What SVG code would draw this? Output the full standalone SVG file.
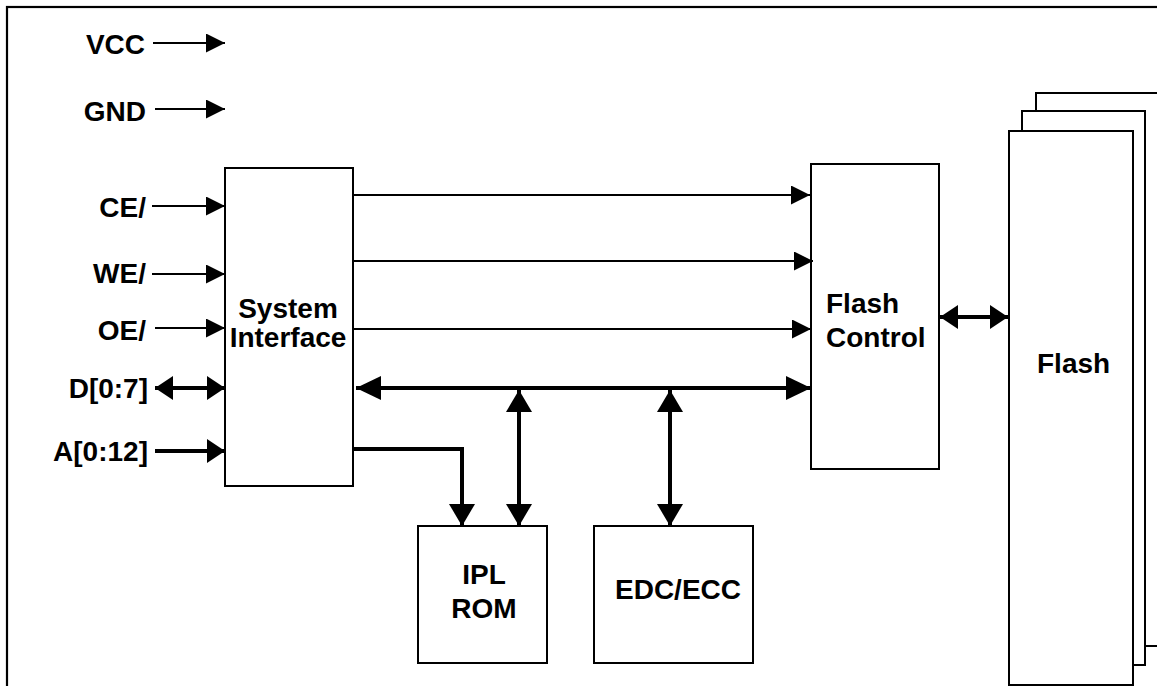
<svg xmlns="http://www.w3.org/2000/svg" width="1157" height="686" viewBox="0 0 1157 686">
<style>
.box{fill:#fff;stroke:#000;stroke-width:2}
.lbl{font-family:"Liberation Sans",Arial,sans-serif;font-weight:bold;font-size:28px;fill:#000}
.thin{stroke:#000;stroke-width:1.8;fill:none}
.thick{stroke:#000;stroke-width:4;fill:none}
</style>
<defs>
<marker id="aThin" viewBox="0 0 19 19" refX="19" refY="9.5" markerWidth="19" markerHeight="19" markerUnits="userSpaceOnUse" orient="auto-start-reverse"><path d="M0,0 L19,9.5 L0,19 z" fill="#000"/></marker>
<marker id="aMed" viewBox="0 0 18 24" refX="18" refY="12" markerWidth="18" markerHeight="24" markerUnits="userSpaceOnUse" orient="auto-start-reverse"><path d="M0,0 L18,12 L0,24 z" fill="#000"/></marker>
<marker id="aBig" viewBox="0 0 25 24" refX="25" refY="12" markerWidth="25" markerHeight="24" markerUnits="userSpaceOnUse" orient="auto-start-reverse"><path d="M0,0 L25,12 L0,24 z" fill="#000"/></marker>
<marker id="aVert" viewBox="0 0 22 26" refX="22" refY="13" markerWidth="22" markerHeight="26" markerUnits="userSpaceOnUse" orient="auto-start-reverse"><path d="M0,0 L22,13 L0,26 z" fill="#000"/></marker>
</defs>
<rect x="0" y="0" width="1157" height="686" fill="#fff"/>
<rect x="7" y="7" width="1200" height="720" fill="none" stroke="#000" stroke-width="2.2"/>

<g id="flash">
<rect class="box" x="1036" y="93" width="140" height="553"/>
<rect class="box" x="1022" y="111" width="123" height="554"/>
<rect class="box" x="1009" y="131" width="124" height="554"/>
<text class="lbl" x="1037" y="373">Flash</text>
</g>

<g id="system-interface">
<rect class="box" x="225" y="168" width="128" height="318"/>
<text class="lbl" x="288" y="318" text-anchor="middle">System</text>
<text class="lbl" x="288" y="347" text-anchor="middle">Interface</text>
</g>

<g id="flash-control">
<rect class="box" x="811" y="164" width="128" height="305"/>
<text class="lbl" x="826" y="313">Flash</text>
<text class="lbl" x="826" y="347">Control</text>
</g>

<g id="ipl-rom">
<rect class="box" x="418" y="526" width="129" height="137"/>
<text class="lbl" x="484" y="584" text-anchor="middle">IPL</text>
<text class="lbl" x="484" y="618" text-anchor="middle">ROM</text>
</g>

<g id="edc-ecc">
<rect class="box" x="594" y="526" width="159" height="137"/>
<text class="lbl" x="615" y="599">EDC/ECC</text>
</g>

<g id="pins">
<text class="lbl" x="145" y="54" text-anchor="end">VCC</text>
<text class="lbl" x="146" y="121" text-anchor="end">GND</text>
<text class="lbl" x="146" y="217" text-anchor="end">CE/</text>
<text class="lbl" x="146" y="283" text-anchor="end">WE/</text>
<text class="lbl" x="146" y="340" text-anchor="end">OE/</text>
<text class="lbl" x="148" y="398" text-anchor="end">D[0:7]</text>
<text class="lbl" x="148" y="461" text-anchor="end">A[0:12]</text>
</g>

<g id="connectors">
<line class="thin" x1="153" y1="43" x2="225" y2="43" marker-end="url(#aThin)"/>
<line class="thin" x1="155" y1="109" x2="225" y2="109" marker-end="url(#aThin)"/>
<line class="thin" x1="152" y1="206" x2="225" y2="206" marker-end="url(#aThin)"/>
<line class="thin" x1="152" y1="274" x2="225" y2="274" marker-end="url(#aThin)"/>
<line class="thin" x1="155" y1="328" x2="225" y2="328" marker-end="url(#aThin)"/>
<line class="thick" x1="155" y1="388" x2="225" y2="388" marker-start="url(#aMed)" marker-end="url(#aMed)"/>
<line class="thick" x1="155" y1="451" x2="225" y2="451" marker-end="url(#aMed)"/>

<line class="thin" x1="353" y1="195" x2="810" y2="195" marker-end="url(#aThin)"/>
<line class="thin" x1="353" y1="261" x2="813" y2="261" marker-end="url(#aThin)"/>
<line class="thin" x1="353" y1="329" x2="811" y2="329" marker-end="url(#aThin)"/>
<line class="thick" x1="356" y1="388" x2="811" y2="388" marker-start="url(#aBig)" marker-end="url(#aBig)"/>

<line class="thick" x1="519" y1="390" x2="519" y2="526" marker-start="url(#aVert)" marker-end="url(#aVert)"/>
<line class="thick" x1="670" y1="390" x2="670" y2="526" marker-start="url(#aVert)" marker-end="url(#aVert)"/>
<path class="thick" d="M353,449 H462 V526" marker-end="url(#aVert)"/>

<line class="thick" x1="940" y1="317" x2="1008" y2="317" marker-start="url(#aMed)" marker-end="url(#aMed)"/>
</g>
</svg>
